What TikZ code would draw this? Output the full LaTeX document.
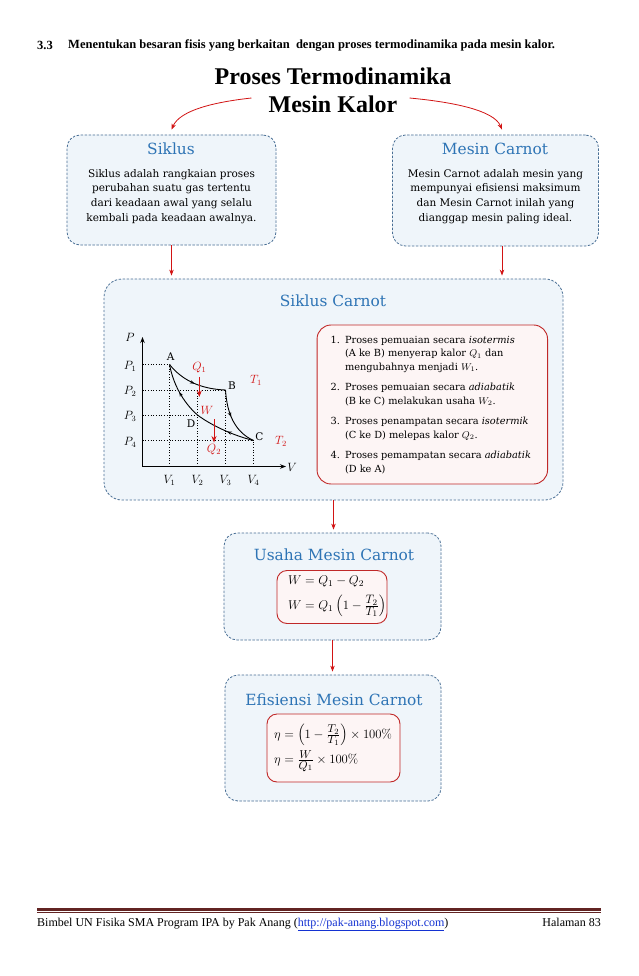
\RequirePackage{fix-cm}
\documentclass[tikz,border=0pt]{standalone}
\usepackage[no-math]{fontspec}
\usepackage{amsmath}
\setmainfont{DejaVu Serif}
\newfontfamily\headfont{Liberation Serif}
\usepackage{tikz}
\usetikzlibrary{arrows.meta,decorations.markings}

\definecolor{titleblue}{RGB}{46,116,181}
\definecolor{boxfill}{RGB}{239,245,250}
\definecolor{boxline}{RGB}{72,110,148}
\definecolor{boxred}{RGB}{192,40,40}
\definecolor{redfill}{RGB}{253,245,245}
\definecolor{arrowred}{RGB}{210,20,20}
\definecolor{footbrown}{RGB}{98,36,35}
\definecolor{linkblue}{RGB}{20,50,210}

% fraction between text and script size
\newcommand\ratiofrac[3][11.5]{\frac{\mbox{\fontsize{#1}{12}\selectfont$#2$}}{\mbox{\fontsize{#1}{12}\selectfont$#3$}}}

\begin{document}
\begin{tikzpicture}[x=1pt,y=-1pt,inner sep=0pt,
  bluebox/.style={draw=boxline,fill=boxfill,line width=0.8pt,dash pattern=on 2.4pt off 1.6pt,rounded corners=13pt},
  redbox/.style={draw=boxred,fill=redfill,line width=0.9pt,rounded corners=10pt},
  boxtitle/.style={text=titleblue,font=\fontsize{15.4}{18}\selectfont},
  boxtext/.style={align=center,font=\fontsize{10.5}{14.7}\selectfont},
  listtext/.style={align=left,font=\fontsize{9.8}{13.5}\selectfont},
  eqtext/.style={font=\fontsize{12.7}{16}\selectfont},
  redarrow/.style={draw=arrowred,line width=0.8pt,-{Stealth[length=6pt,width=4.5pt]}},
  heatarrow/.style={draw=arrowred,line width=1pt,-{Stealth[length=6.5pt,width=5pt]}},
  heatlabel/.style={text=arrowred,font=\fontsize{12}{14}\selectfont},
  axislabel/.style={font=\fontsize{12}{14}\selectfont},
  pointlabel/.style={font=\fontsize{10.5}{12}\selectfont},
  gridline/.style={dotted,line width=0.7pt},
  curve/.style={line width=0.9pt},
  midarrow/.style={postaction={decorate},decoration={markings,mark=at position #1 with {\arrow{Stealth[length=4.5pt,width=3.5pt]}}}}]
  \fill[white] (0,0) rectangle (638,976);
  \useasboundingbox (0,0) rectangle (638,976);

  % heading of the section
  \node[anchor=west,font=\headfont\bfseries\fontsize{12.5}{14}\selectfont] (secnum) at (37,45) {3.3};
  \node[anchor=west,font=\headfont\bfseries\fontsize{12.5}{14}\selectfont] (sectitle) at (68,45) {Menentukan besaran fisis yang berkaitan\ \ dengan proses termodinamika pada mesin kalor.};
  \node[font=\headfont\bfseries\fontsize{24}{28}\selectfont] (proses) at (333,76) {Proses Termodinamika};
  \node[font=\headfont\bfseries\fontsize{24}{28}\selectfont] (kalor) at (333,104) {Mesin Kalor};

  % the two upper boxes
  \node[bluebox,minimum width=209pt,minimum height=110pt] (siklus) at (171.5,190) {};
  \node[boxtitle] (siklustitle) at (171,149) {Siklus};
  \node[boxtext] (siklustext) at (171.5,196.5) {Siklus adalah rangkaian proses\\perubahan suatu gas tertentu\\dari keadaan awal yang selalu\\kembali pada keadaan awalnya.};
  \node[bluebox,minimum width=206pt,minimum height=111pt] (carnot) at (495.5,190.5) {};
  \node[boxtitle] (carnottitle) at (495,149) {Mesin Carnot};
  \node[boxtext] (carnottext) at (495.5,196.5) {Mesin Carnot adalah mesin yang\\mempunyai efisiensi maksimum\\dan Mesin Carnot inilah yang\\dianggap mesin paling ideal.};

  \draw[redarrow] ([xshift=-17pt,yshift=6pt]kalor.west) .. controls (215,102) and (180,110) .. ([yshift=5pt]siklus.north);
  \draw[redarrow] ([xshift=12pt,yshift=6pt]kalor.east) .. controls (452,102) and (494,110) .. ([xshift=6.5pt,yshift=5pt]carnot.north);

  % Siklus Carnot
  \node[bluebox,rounded corners=18pt,minimum width=459pt,minimum height=221pt] (cycle) at (333.5,389.5) {};
  \node[boxtitle] (cycletitle) at (333,301) {Siklus Carnot};
  \draw[redarrow,shorten >=3pt] (siklus.south) -- (siklus.south |- cycle.north);
  \draw[redarrow,shorten >=3pt] ([xshift=6.5pt]carnot.south) -- ([xshift=6.5pt]carnot.south |- cycle.north);

  % P-V diagram
  \coordinate (O) at (142.5,466.5);
  \coordinate (Ptop) at (142.5,337);
  \coordinate (Vend) at (286,466.5);
  \coordinate (A) at (169.5,364.5);
  \coordinate (B) at (225.5,390);
  \coordinate (C) at (253.5,440.5);
  \coordinate (D) at (197.5,415);
  \draw[gridline] (O |- A) -- (A);
  \draw[gridline] (O |- B) -- (B);
  \draw[gridline] (O |- D) -- (D);
  \draw[gridline] (O |- C) -- (C);
  \draw[gridline] (A |- O) -- (A);
  \draw[gridline] (D |- O) -- (D |- B);
  \draw[gridline] (B |- O) -- (B);
  \draw[gridline] (C |- O) -- (C);
  \draw[line width=1pt,-{Stealth[length=6pt,width=4.5pt]}] (O) -- (Ptop);
  \draw[line width=1pt,-{Stealth[length=6pt,width=4.5pt]}] (O) -- (Vend);
  \draw[curve,midarrow=0.5] (A) .. controls (182,380) and (200,389) .. (B);
  \draw[curve,midarrow=0.45] (B) .. controls (227,414) and (235,432) .. (C);
  \draw[curve,midarrow=0.45] (C) .. controls (235,436) and (212,426) .. (D);
  \draw[curve,midarrow=0.5] (D) .. controls (186,405) and (174,388) .. (A);
  \node[axislabel] (plabel) at (130,337) {$P$};
  \node[axislabel] (vlabel) at (292,467) {$V$};
  \node[axislabel,anchor=east] (pone) at (136.5,366) {$P_1$};
  \node[axislabel,anchor=east] (ptwo) at (136.5,391.5) {$P_2$};
  \node[axislabel,anchor=east] (pthree) at (136.5,416.5) {$P_3$};
  \node[axislabel,anchor=east] (pfour) at (136.5,442) {$P_4$};
  \node[axislabel] (vone) at (169.5,480) {$V_1$};
  \node[axislabel] (vtwo) at (197.5,480) {$V_2$};
  \node[axislabel] (vthree) at (225.5,480) {$V_3$};
  \node[axislabel] (vfour) at (253.5,480) {$V_4$};
  \node[pointlabel] (alabel) at (170.7,356.5) {A};
  \node[pointlabel] (blabel) at (232,386) {B};
  \node[pointlabel] (clabel) at (259.5,437) {C};
  \node[pointlabel] (dlabel) at (191,424) {D};
  \node[heatlabel] (qone) at (199.3,367.5) {$Q_1$};
  \node[heatlabel] (qtwo) at (214,450) {$Q_2$};
  \node[heatlabel] (wlabel) at (207,410.5) {$W$};
  \node[heatlabel] (tone) at (256,380) {$T_1$};
  \node[heatlabel] (ttwo) at (281,441) {$T_2$};
  \coordinate (qonetip) at (199.3,397);
  \coordinate (qtwotop) at (214,419);
  \draw[heatarrow] ([yshift=-4pt]qone.south) -- (qonetip);
  \draw[heatarrow] (qtwotop) -- ([yshift=2pt]qtwo.north);

  % steps of the cycle
  \node[redbox,rounded corners=14pt,minimum width=230.5pt,minimum height=159pt] (stepbox) at (432.3,404.5) {};
  \node[listtext,anchor=north west] (steps) at (330.5,336) {\makebox[14.3pt][l]{1.}Proses pemuaian secara \textit{isotermis}\\
    \hspace*{14.3pt}(A ke B) menyerap kalor $Q_1$ dan\\
    \hspace*{14.3pt}mengubahnya menjadi $W_1$.\\[7pt]
    \makebox[14.3pt][l]{2.}Proses pemuaian secara \textit{adiabatik}\\
    \hspace*{14.3pt}(B ke C) melakukan usaha $W_2$.\\[7pt]
    \makebox[14.3pt][l]{3.}Proses penampatan secara \textit{isotermik}\\
    \hspace*{14.3pt}(C ke D) melepas kalor $Q_2$.\\[7pt]
    \makebox[14.3pt][l]{4.}Proses pemampatan secara \textit{adiabatik}\\
    \hspace*{14.3pt}(D ke A)};

  % Usaha Mesin Carnot
  \node[bluebox,minimum width=217pt,minimum height=107pt] (usaha) at (332.5,586.5) {};
  \node[boxtitle] (usahatitle) at (334,555) {Usaha Mesin Carnot};
  \node[redbox,minimum width=110pt,minimum height=53pt] (usahaeq) at (332,597) {};
  \node[eqtext,anchor=west] (eqone) at (288,581.5) {$W = Q_1 - Q_2$};
  \node[eqtext,anchor=west] (eqtwo) at (288,606) {$W = Q_1\left(1-\ratiofrac[12.2]{T_2}{T_1}\right)$};
  \draw[redarrow,shorten >=3pt] (cycle.south) -- (cycle.south |- usaha.north);

  % Efisiensi Mesin Carnot
  \node[bluebox,minimum width=216pt,minimum height=126pt] (efisiensi) at (333,738) {};
  \node[boxtitle] (efisiensititle) at (334,699.5) {Efisiensi Mesin Carnot};
  \node[redbox,minimum width=133pt,minimum height=68pt] (efisiensieq) at (333.5,748) {};
  \node[eqtext,anchor=west] (etaone) at (274,735) {$\eta = \left(1-\ratiofrac{T_2}{T_1}\right)\times 100\%$};
  \node[eqtext,anchor=west] (etatwo) at (274,761) {$\eta = \ratiofrac{W}{Q_1}\times 100\%$};
  \draw[redarrow,shorten >=3pt] (usaha.south) -- (usaha.south |- efisiensi.north);

  % footer
  \coordinate (footl) at (37,909.5);
  \coordinate (footr) at (601,909.5);
  \draw[footbrown,line width=3pt] (footl) -- (footr);
  \draw[footbrown,line width=0.7pt] ([yshift=-3.3pt]footl) -- ([yshift=-3.3pt]footr);
  \node[anchor=base west,font=\headfont\fontsize{12}{14}\selectfont] (footleft) at (37,926) {Bimbel UN Fisika SMA Program IPA by Pak Anang (\textcolor{linkblue}{\underline{http://pak-anang.blogspot.com}})};
  \node[anchor=base east,font=\headfont\fontsize{12}{14}\selectfont] (footright) at (601,926) {Halaman 83};
\end{tikzpicture}
\end{document}
